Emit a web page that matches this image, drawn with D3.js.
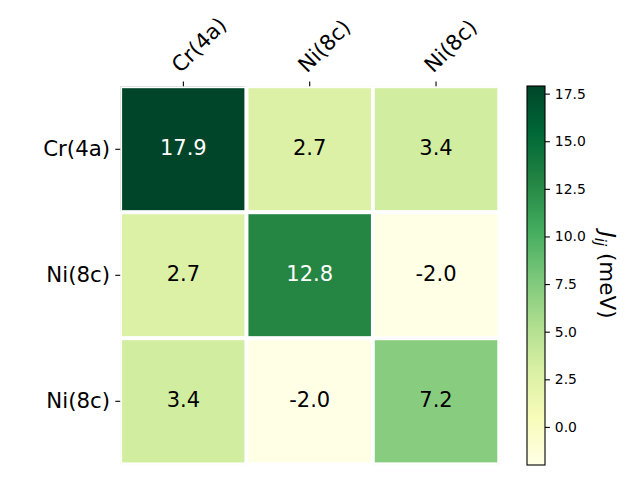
<!DOCTYPE html>
<html>
<head>
<meta charset="utf-8">
<script src="https://cdn.jsdelivr.net/npm/d3@7"></script>
<style>
  html, body { margin: 0; padding: 0; background: #ffffff; }
  svg { display: block; }
  text { font-family: "DejaVu Sans", sans-serif; }
</style>
</head>
<body>
<svg id="chart" width="640" height="480"></svg>
<script>
// ---- data ----
const rowLabels = ["Cr(4a)", "Ni(8c)", "Ni(8c)"];
const colLabels = ["Cr(4a)", "Ni(8c)", "Ni(8c)"];
const row0 = [17.9, 2.7, 3.4];
const row1 = [2.7, 12.8, -2.0];
const row2 = [3.4, -2.0, 7.2];
const values = [row0, row1, row2];
const colorbarTicks = [0.0, 2.5, 5.0, 7.5, 10.0, 12.5, 15.0, 17.5];
const colorDomain = [-2.0, 17.9];
const colorbarLabel = "(meV)";
// matplotlib YlGn (ColorBrewer 9-class, linearly interpolated)
const ylgn = ["#ffffe5", "#f7fcb9", "#d9f0a3", "#addd8e", "#78c679", "#41ab5d", "#238443", "#006837", "#004529"];

// ---- layout ----
const svg = d3.select("#chart");
const ax = { left: 120.2, right: 499.2, top: 86.3, bottom: 464.3 };
const cb = { left: 527, right: 545, top: 86, bottom: 465 };

const idx = d3.range(3);
const x = d3.scaleBand().domain(idx).range([ax.left, ax.right]).padding(0);
const y = d3.scaleBand().domain(idx).range([ax.top, ax.bottom]).padding(0);

const color = d3.scaleLinear()
  .domain(ylgn.map((_, i) => colorDomain[0] + i * (colorDomain[1] - colorDomain[0]) / (ylgn.length - 1)))
  .range(ylgn)
  .interpolate(d3.interpolateRgb)
  .clamp(true);

// clip for heatmap
svg.append("defs").append("clipPath").attr("id", "axclip")
  .append("rect")
  .attr("x", ax.left).attr("y", ax.top)
  .attr("width", ax.right - ax.left).attr("height", ax.bottom - ax.top);

const cells = [];
values.forEach((row, r) => row.forEach((v, c) => cells.push({ r, c, v })));

const g = svg.append("g").attr("clip-path", "url(#axclip)");
g.selectAll("rect.cell").data(cells).enter().append("rect")
  .attr("class", "cell")
  .attr("x", d => x(d.c))
  .attr("y", d => y(d.r))
  .attr("width", x.bandwidth())
  .attr("height", y.bandwidth())
  .attr("fill", d => color(d.v))
  .attr("stroke", "#ffffff")
  .attr("stroke-width", 3.8);

// annotations
svg.selectAll("text.ann").data(cells).enter().append("text")
  .attr("class", "ann")
  .attr("x", d => x(d.c) + x.bandwidth() / 2)
  .attr("y", d => y(d.r) + y.bandwidth() / 2 + 5.2)
  .attr("text-anchor", "middle")
  .attr("font-size", "21px")
  .attr("fill", d => d.v > 10 ? "#ffffff" : "#000000")
  .text(d => d.v.toFixed(1));

// x axis (top)
const xAxisG = svg.append("g");
colLabels.forEach((lab, i) => {
  const cx = x(i) + x.bandwidth() / 2;
  xAxisG.append("line")
    .attr("x1", cx).attr("x2", cx)
    .attr("y1", ax.top - 4.9).attr("y2", ax.top)
    .attr("stroke", "#000").attr("stroke-width", 1.1);
  xAxisG.append("text")
    .attr("transform", `translate(${cx - 2.8},${ax.top - 4.9 - 4.9 - 2.8}) rotate(-45)`)
    .attr("text-anchor", "start")
    .attr("font-size", "21.3px")
    .attr("fill", "#000")
    .text(lab);
});

// y axis (left)
const yAxisG = svg.append("g");
rowLabels.forEach((lab, i) => {
  const cy = y(i) + y.bandwidth() / 2;
  yAxisG.append("line")
    .attr("x1", ax.left - 4.9).attr("x2", ax.left)
    .attr("y1", cy).attr("y2", cy)
    .attr("stroke", "#000").attr("stroke-width", 1.1);
  yAxisG.append("text")
    .attr("x", ax.left - 4.9 - 5.2)
    .attr("y", cy + 6.2)
    .attr("text-anchor", "end")
    .attr("font-size", "21.3px")
    .attr("fill", "#000")
    .text(lab);
});

// colorbar
const grad = svg.select("defs").append("linearGradient")
  .attr("id", "cbgrad").attr("x1", 0).attr("y1", 1).attr("x2", 0).attr("y2", 0);
ylgn.forEach((c, i) => {
  grad.append("stop").attr("offset", i / (ylgn.length - 1)).attr("stop-color", c);
});
svg.append("rect")
  .attr("x", cb.left).attr("y", cb.top)
  .attr("width", cb.right - cb.left).attr("height", cb.bottom - cb.top)
  .attr("fill", "url(#cbgrad)")
  .attr("stroke", "#000").attr("stroke-width", 1.1);

const cbScale = d3.scaleLinear().domain(colorDomain).range([cb.bottom, cb.top]);
const cbAxis = d3.axisRight(cbScale)
  .tickValues(colorbarTicks)
  .tickSize(4.9)
  .tickPadding(4.9)
  .tickFormat(d => d.toFixed(1));
const cbG = svg.append("g").attr("transform", `translate(${cb.right},0)`).call(cbAxis);
cbG.select(".domain").remove();
cbG.selectAll(".tick line").attr("stroke", "#000").attr("stroke-width", 1.1);
cbG.selectAll(".tick text")
  .attr("font-family", "DejaVu Sans, sans-serif")
  .attr("font-size", "13.9px")
  .attr("fill", "#000")
  .attr("dy", "0.32em");

// colorbar label
const lbl = svg.append("text")
  .attr("transform", `translate(599.5,275) rotate(90)`)
  .attr("text-anchor", "middle")
  .attr("font-size", "21.5px")
  .attr("fill", "#000");
lbl.append("tspan").attr("font-style", "italic").text("J");
lbl.append("tspan").attr("font-style", "italic").attr("font-size", "15px").attr("dy", "4.5").text("ij");
lbl.append("tspan").attr("dy", "-4.5").text(" " + colorbarLabel);
</script>
</body>
</html>
